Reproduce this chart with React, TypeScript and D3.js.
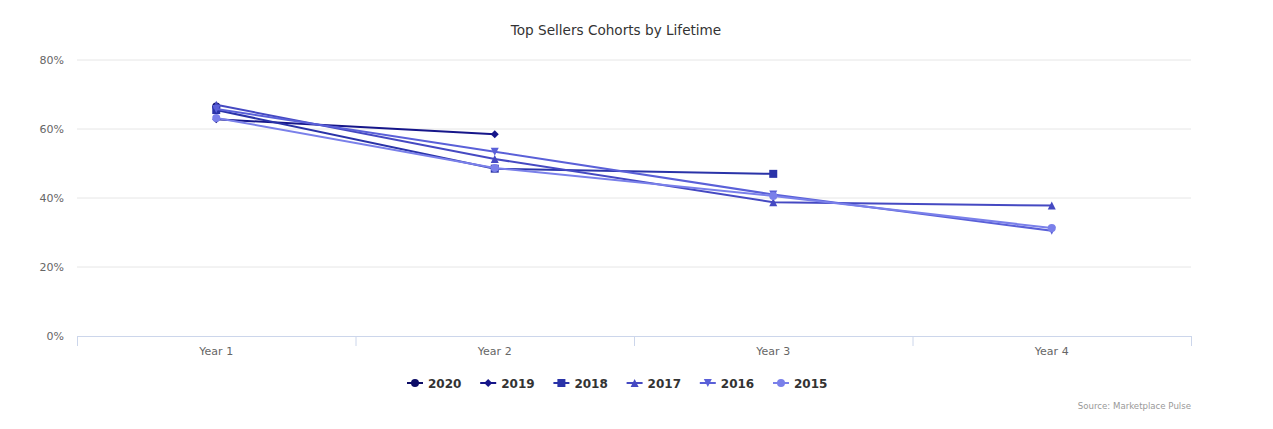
import React from 'react';
import * as d3 from 'd3';

const categories = ['Year 1', 'Year 2', 'Year 3', 'Year 4'];
const seriesNames = ['2020', '2019', '2018', '2017', '2016', '2015'];
const values2020 = [66.5];
const values2019 = [62.8, 58.5];
const values2018 = [65.5, 48.5, 47.0];
const values2017 = [67.0, 51.3, 38.8, 37.8];
const values2016 = [65.8, 53.4, 41.0, 30.5];
const values2015 = [63.2, 48.7, 40.6, 31.3];
const yTicks = [0, 20, 40, 60, 80];

const colors = ['#0c0c66', '#16168a', '#2a33a8', '#4549c2', '#5a60d8', '#7a80ea'];
const symbols = ['circle', 'diamond', 'square', 'triangle', 'triangle-down', 'circle'];

const series = [values2020, values2019, values2018, values2017, values2016, values2015].map((values, i) => ({
	name: seriesNames[i],
	values,
	color: colors[i],
	symbol: symbols[i],
}));

const font = '"DejaVu Sans", Verdana, sans-serif';

function Marker({ kind, x, y, color }: { kind: string; x: number; y: number; color: string }) {
	const r = 4;
	if (kind === 'circle') return <circle cx={x} cy={y} r={r} fill={color} />;
	if (kind === 'square') return <rect x={x - r} y={y - r} width={2 * r} height={2 * r} fill={color} />;
	if (kind === 'diamond')
		return <path d={`M${x},${y - r}L${x + r},${y}L${x},${y + r}L${x - r},${y}Z`} fill={color} />;
	if (kind === 'triangle')
		return <path d={`M${x},${y - r}L${x + r},${y + r}L${x - r},${y + r}Z`} fill={color} />;
	return <path d={`M${x - r},${y - r}L${x + r},${y - r}L${x},${y + r}Z`} fill={color} />;
}

export default function App() {
	const width = 1273;
	const height = 429;
	const margin = { top: 60, right: 82, bottom: 93, left: 77 };

	const x = d3
		.scaleBand()
		.domain(categories)
		.range([margin.left, width - margin.right]);
	const y = d3
		.scaleLinear()
		.domain([0, 80])
		.range([height - margin.bottom, margin.top]);

	const line = d3
		.line<number>()
		.x((d, i) => (x(categories[i]) as number) + x.bandwidth() / 2)
		.y((d) => y(d));

	const ticksX = [...categories.map((c) => x(c) as number), width - margin.right];
	const legendStart = 407;
	const legendStep = 73.2;

	return (
		<svg
			width={width}
			height={height}
			style={{ position: 'absolute', left: 0, top: 0, background: '#fff', fontFamily: font }}
		>
			<text x={616} y={35} textAnchor="middle" fontSize={13.6} fill="#333">
				Top Sellers Cohorts by Lifetime
			</text>

			{yTicks.map((t) => (
				<g key={t}>
					{t > 0 && (
						<line x1={margin.left} x2={width - margin.right} y1={y(t)} y2={y(t)} stroke="#e6e6e6" />
					)}
					<text x={64} y={y(t) + 4} textAnchor="end" fontSize={11} fill="#666">
						{t}%
					</text>
				</g>
			))}

			<line
				x1={margin.left}
				x2={width - margin.right}
				y1={y(0) + 0.5}
				y2={y(0) + 0.5}
				stroke="#ccd6eb"
			/>
			{ticksX.map((tx, i) => (
				<line key={i} x1={tx + 0.5} x2={tx + 0.5} y1={y(0)} y2={y(0) + 10} stroke="#ccd6eb" />
			))}
			{categories.map((c) => (
				<text
					key={c}
					x={(x(c) as number) + x.bandwidth() / 2}
					y={y(0) + 19}
					textAnchor="middle"
					fontSize={11}
					fill="#666"
				>
					{c}
				</text>
			))}

			{series.map((s) => (
				<g key={s.name}>
					<path d={line(s.values) || ''} fill="none" stroke={s.color} strokeWidth={2} />
					{s.values.map((v, i) => (
						<Marker
							key={i}
							kind={s.symbol}
							x={(x(categories[i]) as number) + x.bandwidth() / 2}
							y={y(v)}
							color={s.color}
						/>
					))}
				</g>
			))}

			{series.map((s, i) => {
				const lx = legendStart + i * legendStep;
				const ly = 383;
				return (
					<g key={s.name}>
						<line x1={lx} x2={lx + 16} y1={ly} y2={ly} stroke={s.color} strokeWidth={2} />
						<Marker kind={s.symbol} x={lx + 8} y={ly} color={s.color} />
						<text x={lx + 21} y={ly + 4.5} fontSize={12} fontWeight="bold" fill="#333">
							{s.name}
						</text>
					</g>
				);
			})}

			<text x={width - margin.right} y={409} textAnchor="end" fontSize={8.6} fill="#999">
				Source: Marketplace Pulse
			</text>
		</svg>
	);
}
